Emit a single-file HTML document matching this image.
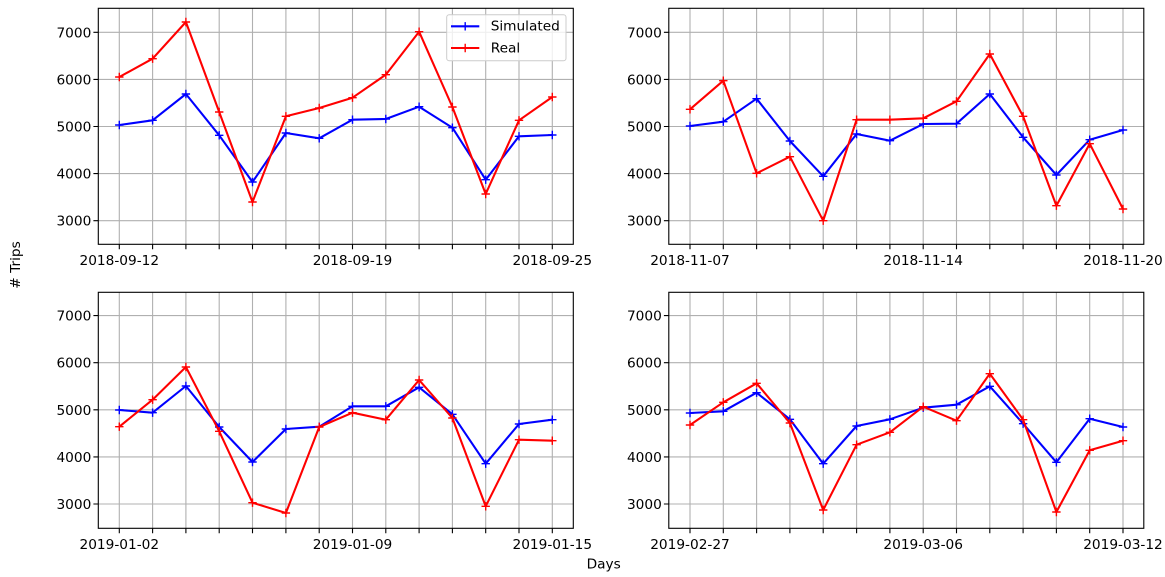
<!DOCTYPE html>
<html>
<head>
<meta charset="utf-8">
<style>
html,body{margin:0;padding:0;background:#fff;}
svg{display:block;}
text{font-family:"DejaVu Sans","Liberation Sans",sans-serif;font-size:13.7px;fill:#000;}
</style>
</head>
<body>
<svg width="1165" height="577" viewBox="0 0 1165 577" xmlns="http://www.w3.org/2000/svg">
<defs>
<marker id="pb" markerWidth="10" markerHeight="10" refX="5" refY="5" markerUnits="userSpaceOnUse" overflow="visible"><path d="M0.8 5H9.2M5 0.8V9.2" stroke="#0000ff" stroke-width="1.4" fill="none"/></marker>
<marker id="pr" markerWidth="10" markerHeight="10" refX="5" refY="5" markerUnits="userSpaceOnUse" overflow="visible"><path d="M0.8 5H9.2M5 0.8V9.2" stroke="#ff0000" stroke-width="1.4" fill="none"/></marker>
</defs>
<rect width="1165" height="577" fill="#fff"/>

<!-- ============ TOP LEFT ============ -->
<g stroke="#b0b0b0" stroke-width="1.1" fill="none">
<path d="M119.3 8.3V244.3M152.6 8.3V244.3M185.9 8.3V244.3M219.2 8.3V244.3M252.5 8.3V244.3M285.9 8.3V244.3M319.2 8.3V244.3M352.5 8.3V244.3M385.8 8.3V244.3M419.1 8.3V244.3M452.4 8.3V244.3M485.7 8.3V244.3M519.0 8.3V244.3M552.3 8.3V244.3"/>
<path d="M98.3 32.3H573.3M98.3 79.4H573.3M98.3 126.5H573.3M98.3 173.6H573.3M98.3 220.7H573.3"/>
</g>
<polyline fill="none" stroke="#0000ff" stroke-width="2.08" stroke-linejoin="round" marker-start="url(#pb)" marker-mid="url(#pb)" marker-end="url(#pb)" points="119.3,125 152.6,120.3 185.9,94 219.2,135.3 252.5,182 285.9,133 319.2,138.3 352.5,119.7 385.8,119 419.1,106.7 452.4,127.7 485.7,179.7 519.0,136.3 552.3,135"/>
<polyline fill="none" stroke="#ff0000" stroke-width="2.08" stroke-linejoin="round" marker-start="url(#pr)" marker-mid="url(#pr)" marker-end="url(#pr)" points="119.3,77 152.6,58.7 185.9,22 219.2,112 252.5,202 285.9,116.3 319.2,108 352.5,97.7 385.8,74.7 419.1,31.7 452.4,107 485.7,194 519.0,120.3 552.3,97"/>
<rect x="98.3" y="8.3" width="475" height="236" fill="none" stroke="#000" stroke-width="1.1"/>
<g stroke="#000" stroke-width="1.1">
<path d="M119.3 244.3v4.9M152.6 244.3v4.9M185.9 244.3v4.9M219.2 244.3v4.9M252.5 244.3v4.9M285.9 244.3v4.9M319.2 244.3v4.9M352.5 244.3v4.9M385.8 244.3v4.9M419.1 244.3v4.9M452.4 244.3v4.9M485.7 244.3v4.9M519.0 244.3v4.9M552.3 244.3v4.9"/>
<path d="M98.3 32.3h-4.9M98.3 79.4h-4.9M98.3 126.5h-4.9M98.3 173.6h-4.9M98.3 220.7h-4.9"/>
</g>
<g text-anchor="end">
<text x="91.3" y="37.3">7000</text><text x="91.3" y="84.4">6000</text><text x="91.3" y="131.5">5000</text><text x="91.3" y="178.6">4000</text><text x="91.3" y="225.7">3000</text>
</g>
<g text-anchor="middle">
<text x="119.3" y="265">2018-09-12</text><text x="352.5" y="265">2018-09-19</text><text x="552.3" y="265">2018-09-25</text>
</g>
<!-- legend -->
<rect x="446.7" y="14.7" width="119.3" height="46" rx="2.5" fill="#fff" fill-opacity="0.8" stroke="#cccccc" stroke-width="1"/>
<polyline fill="none" stroke="#0000ff" stroke-width="2.08" marker-mid="url(#pb)" points="451,26.3 465.2,26.3 479.3,26.3"/>
<polyline fill="none" stroke="#ff0000" stroke-width="2.08" marker-mid="url(#pr)" points="451,48 465.2,48 479.3,48"/>
<text x="490.7" y="30.3">Simulated</text>
<text x="490.7" y="52.3">Real</text>

<!-- ============ TOP RIGHT ============ -->
<g stroke="#b0b0b0" stroke-width="1.1" fill="none">
<path d="M690.0 8.3V244.3M723.3 8.3V244.3M756.6 8.3V244.3M789.9 8.3V244.3M823.2 8.3V244.3M856.6 8.3V244.3M889.9 8.3V244.3M923.2 8.3V244.3M956.5 8.3V244.3M989.8 8.3V244.3M1023.1 8.3V244.3M1056.4 8.3V244.3M1089.7 8.3V244.3M1123.0 8.3V244.3"/>
<path d="M668.8 32.3H1143.8M668.8 79.4H1143.8M668.8 126.5H1143.8M668.8 173.6H1143.8M668.8 220.7H1143.8"/>
</g>
<polyline fill="none" stroke="#0000ff" stroke-width="2.08" stroke-linejoin="round" marker-start="url(#pb)" marker-mid="url(#pb)" marker-end="url(#pb)" points="690.0,126 723.3,121.7 756.6,98.7 789.9,141 823.2,176.3 856.6,134 889.9,140.7 923.2,124 956.5,123.7 989.8,94 1023.1,137.3 1056.4,175 1089.7,139.7 1123.0,130"/>
<polyline fill="none" stroke="#ff0000" stroke-width="2.08" stroke-linejoin="round" marker-start="url(#pr)" marker-mid="url(#pr)" marker-end="url(#pr)" points="690.0,109.3 723.3,80.7 756.6,173.3 789.9,156.7 823.2,220.7 856.6,119.7 889.9,119.7 923.2,118.3 956.5,101.3 989.8,54 1023.1,116.3 1056.4,205.7 1089.7,143.7 1123.0,209"/>
<rect x="668.8" y="8.3" width="475" height="236" fill="none" stroke="#000" stroke-width="1.1"/>
<g stroke="#000" stroke-width="1.1">
<path d="M690.0 244.3v4.9M723.3 244.3v4.9M756.6 244.3v4.9M789.9 244.3v4.9M823.2 244.3v4.9M856.6 244.3v4.9M889.9 244.3v4.9M923.2 244.3v4.9M956.5 244.3v4.9M989.8 244.3v4.9M1023.1 244.3v4.9M1056.4 244.3v4.9M1089.7 244.3v4.9M1123.0 244.3v4.9"/>
<path d="M668.8 32.3h-4.9M668.8 79.4h-4.9M668.8 126.5h-4.9M668.8 173.6h-4.9M668.8 220.7h-4.9"/>
</g>
<g text-anchor="end">
<text x="661.8" y="37.3">7000</text><text x="661.8" y="84.4">6000</text><text x="661.8" y="131.5">5000</text><text x="661.8" y="178.6">4000</text><text x="661.8" y="225.7">3000</text>
</g>
<g text-anchor="middle">
<text x="690.0" y="265">2018-11-07</text><text x="923.2" y="265">2018-11-14</text><text x="1123.0" y="265">2018-11-20</text>
</g>

<!-- ============ BOTTOM LEFT ============ -->
<g stroke="#b0b0b0" stroke-width="1.1" fill="none">
<path d="M119.3 292.3V528.3M152.6 292.3V528.3M185.9 292.3V528.3M219.2 292.3V528.3M252.5 292.3V528.3M285.9 292.3V528.3M319.2 292.3V528.3M352.5 292.3V528.3M385.8 292.3V528.3M419.1 292.3V528.3M452.4 292.3V528.3M485.7 292.3V528.3M519.0 292.3V528.3M552.3 292.3V528.3"/>
<path d="M98.3 315.6H573.3M98.3 362.7H573.3M98.3 409.8H573.3M98.3 456.9H573.3M98.3 504H573.3"/>
</g>
<polyline fill="none" stroke="#0000ff" stroke-width="2.08" stroke-linejoin="round" marker-start="url(#pb)" marker-mid="url(#pb)" marker-end="url(#pb)" points="119.3,410 152.6,412.7 185.9,386 219.2,427 252.5,462 285.9,429 319.2,426.7 352.5,406.3 385.8,406.3 419.1,387.3 452.4,414.3 485.7,463.7 519.0,424 552.3,419.7"/>
<polyline fill="none" stroke="#ff0000" stroke-width="2.08" stroke-linejoin="round" marker-start="url(#pr)" marker-mid="url(#pr)" marker-end="url(#pr)" points="119.3,426.7 152.6,399.7 185.9,367 219.2,431.3 252.5,502.7 285.9,513 319.2,427 352.5,412.7 385.8,419.7 419.1,380 452.4,418 485.7,506.3 519.0,439.7 552.3,440.7"/>
<rect x="98.3" y="292.3" width="475" height="236" fill="none" stroke="#000" stroke-width="1.1"/>
<g stroke="#000" stroke-width="1.1">
<path d="M119.3 528.3v4.9M152.6 528.3v4.9M185.9 528.3v4.9M219.2 528.3v4.9M252.5 528.3v4.9M285.9 528.3v4.9M319.2 528.3v4.9M352.5 528.3v4.9M385.8 528.3v4.9M419.1 528.3v4.9M452.4 528.3v4.9M485.7 528.3v4.9M519.0 528.3v4.9M552.3 528.3v4.9"/>
<path d="M98.3 315.6h-4.9M98.3 362.7h-4.9M98.3 409.8h-4.9M98.3 456.9h-4.9M98.3 504h-4.9"/>
</g>
<g text-anchor="end">
<text x="91.3" y="320.6">7000</text><text x="91.3" y="367.7">6000</text><text x="91.3" y="414.8">5000</text><text x="91.3" y="461.9">4000</text><text x="91.3" y="509">3000</text>
</g>
<g text-anchor="middle">
<text x="119.3" y="549">2019-01-02</text><text x="352.5" y="549">2019-01-09</text><text x="552.3" y="549">2019-01-15</text>
</g>

<!-- ============ BOTTOM RIGHT ============ -->
<g stroke="#b0b0b0" stroke-width="1.1" fill="none">
<path d="M690.0 292.3V528.3M723.3 292.3V528.3M756.6 292.3V528.3M789.9 292.3V528.3M823.2 292.3V528.3M856.6 292.3V528.3M889.9 292.3V528.3M923.2 292.3V528.3M956.5 292.3V528.3M989.8 292.3V528.3M1023.1 292.3V528.3M1056.4 292.3V528.3M1089.7 292.3V528.3M1123.0 292.3V528.3"/>
<path d="M668.8 315.6H1143.8M668.8 362.7H1143.8M668.8 409.8H1143.8M668.8 456.9H1143.8M668.8 504H1143.8"/>
</g>
<polyline fill="none" stroke="#0000ff" stroke-width="2.08" stroke-linejoin="round" marker-start="url(#pb)" marker-mid="url(#pb)" marker-end="url(#pb)" points="690.0,413 723.3,411.3 756.6,392.7 789.9,419.3 823.2,463.7 856.6,426 889.9,419.3 923.2,407.7 956.5,404.7 989.8,386.3 1023.1,423.7 1056.4,462.3 1089.7,418.7 1123.0,427"/>
<polyline fill="none" stroke="#ff0000" stroke-width="2.08" stroke-linejoin="round" marker-start="url(#pr)" marker-mid="url(#pr)" marker-end="url(#pr)" points="690.0,425 723.3,402.3 756.6,383.3 789.9,423 823.2,510 856.6,444.7 889.9,432.3 923.2,406.7 956.5,420.7 989.8,373.7 1023.1,419.7 1056.4,512 1089.7,450.3 1123.0,440.7"/>
<rect x="668.8" y="292.3" width="475" height="236" fill="none" stroke="#000" stroke-width="1.1"/>
<g stroke="#000" stroke-width="1.1">
<path d="M690.0 528.3v4.9M723.3 528.3v4.9M756.6 528.3v4.9M789.9 528.3v4.9M823.2 528.3v4.9M856.6 528.3v4.9M889.9 528.3v4.9M923.2 528.3v4.9M956.5 528.3v4.9M989.8 528.3v4.9M1023.1 528.3v4.9M1056.4 528.3v4.9M1089.7 528.3v4.9M1123.0 528.3v4.9"/>
<path d="M668.8 315.6h-4.9M668.8 362.7h-4.9M668.8 409.8h-4.9M668.8 456.9h-4.9M668.8 504h-4.9"/>
</g>
<g text-anchor="end">
<text x="661.8" y="320.6">7000</text><text x="661.8" y="367.7">6000</text><text x="661.8" y="414.8">5000</text><text x="661.8" y="461.9">4000</text><text x="661.8" y="509">3000</text>
</g>
<g text-anchor="middle">
<text x="690.0" y="549">2019-02-27</text><text x="923.2" y="549">2019-03-06</text><text x="1123.0" y="549">2019-03-12</text>
</g>

<!-- axis labels -->
<text x="603.7" y="568.3" text-anchor="middle">Days</text>
<text transform="translate(20,265) rotate(-90)" text-anchor="middle"># Trips</text>
</svg>
</body>
</html>
